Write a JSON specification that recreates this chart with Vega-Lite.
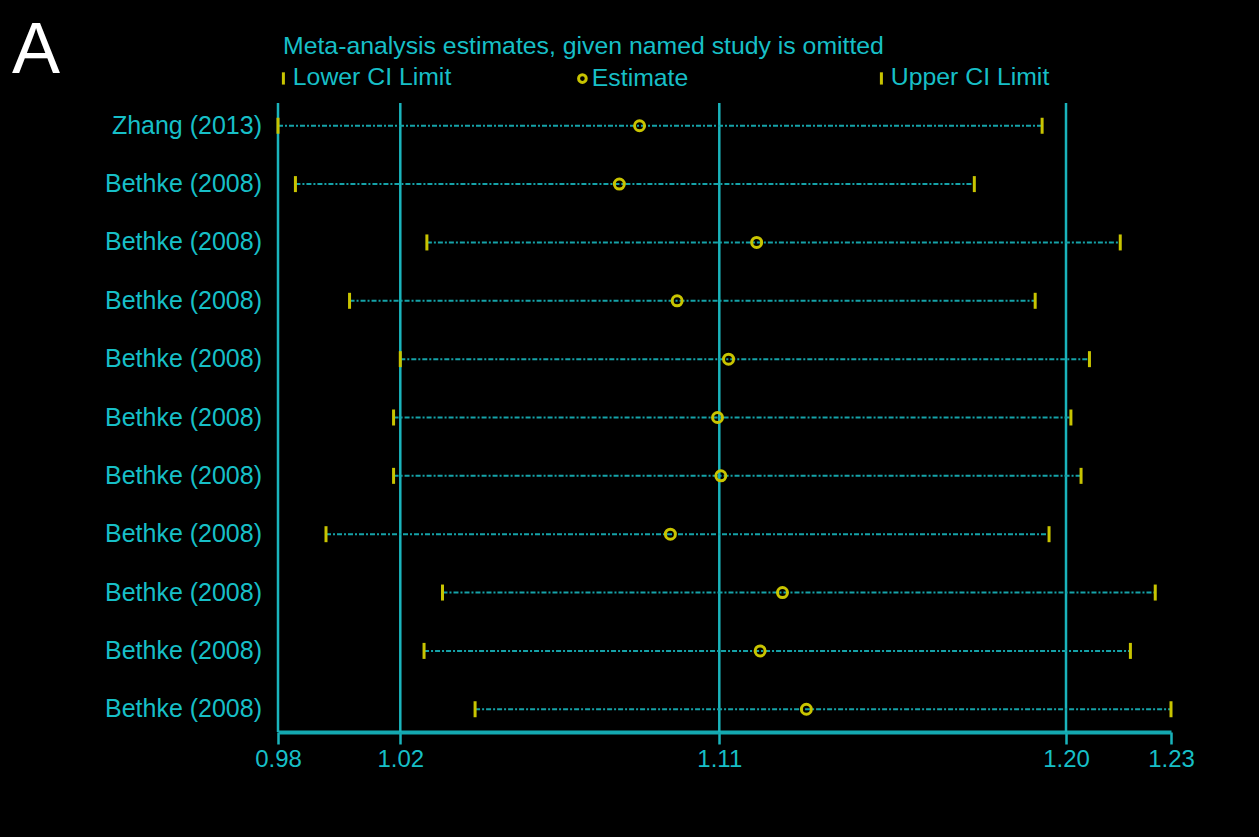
{
  "$schema": "https://vega.github.io/schema/vega-lite/v6.json",
  "width": 893,
  "height": 629,
  "autosize": {"type": "none"},
  "padding": {"left": 278, "top": 103, "right": 88, "bottom": 105},
  "background": "#000000",
  "datasets": {
    "studies": [
      {"row": 1, "study": "Zhang (2013)", "lower": 0.980, "estimate": 1.0875, "upper": 1.1938},
      {"row": 2, "study": "Bethke (2008)", "lower": 0.9857, "estimate": 1.0818, "upper": 1.1762},
      {"row": 3, "study": "Bethke (2008)", "lower": 1.0275, "estimate": 1.1197, "upper": 1.2155},
      {"row": 4, "study": "Bethke (2008)", "lower": 1.0034, "estimate": 1.0981, "upper": 1.1920},
      {"row": 5, "study": "Bethke (2008)", "lower": 1.0200, "estimate": 1.1124, "upper": 1.2067},
      {"row": 6, "study": "Bethke (2008)", "lower": 1.0178, "estimate": 1.1095, "upper": 1.2014},
      {"row": 7, "study": "Bethke (2008)", "lower": 1.0178, "estimate": 1.1104, "upper": 1.2043},
      {"row": 8, "study": "Bethke (2008)", "lower": 0.9957, "estimate": 1.0962, "upper": 1.1956},
      {"row": 9, "study": "Bethke (2008)", "lower": 1.0319, "estimate": 1.1264, "upper": 1.2255},
      {"row": 10, "study": "Bethke (2008)", "lower": 1.0267, "estimate": 1.1206, "upper": 1.2184},
      {"row": 11, "study": "Bethke (2008)", "lower": 1.0411, "estimate": 1.1326, "upper": 1.2300}
    ],
    "reference_lines": [
      {"value": 0.98},
      {"value": 1.02},
      {"value": 1.11},
      {"value": 1.20}
    ],
    "panel": [
      {"label": "A"}
    ]
  },
  "layer": [
    {
      "data": {"name": "reference_lines"},
      "mark": {"type": "rule", "color": "#1ab4bc", "strokeWidth": 2.5},
      "encoding": {
        "x": {
          "field": "value",
          "type": "quantitative",
          "scale": {
            "domain": [0.98, 1.02, 1.11, 1.20, 1.23],
            "range": [0, 122.3, 441.3, 788, 893],
            "nice": false,
            "zero": false
          },
          "axis": {
            "values": [0.98, 1.02, 1.11, 1.20, 1.23],
            "format": ".2f",
            "title": null,
            "grid": false,
            "domainColor": "#14a8b0",
            "domainWidth": 4,
            "tickColor": "#1ab4bc",
            "tickWidth": 2.5,
            "tickSize": 12,
            "labelColor": "#17bfc7",
            "labelFontSize": 24,
            "labelFont": "Liberation Sans",
            "labelPadding": 3,
            "labelDx": 4,
            "labelFlush": false
          }
        }
      }
    },
    {
      "data": {"name": "studies"},
      "mark": {"type": "rule", "color": "#15a2a8", "strokeWidth": 2, "strokeDash": [5, 2, 2, 2]},
      "encoding": {
        "x": {"field": "lower", "type": "quantitative"},
        "x2": {"field": "upper"},
        "y": {"field": "row", "type": "ordinal", "scale": {"type": "point", "padding": 0.39}, "axis": null}
      }
    },
    {
      "data": {"name": "studies"},
      "transform": [{"fold": ["lower", "estimate", "upper"], "as": ["kind", "value"]}],
      "mark": {"type": "point", "filled": false, "strokeWidth": 3, "opacity": 1, "size": 256},
      "encoding": {
        "x": {"field": "value", "type": "quantitative"},
        "y": {"field": "row", "type": "ordinal"},
        "shape": {
          "field": "kind",
          "type": "nominal",
          "scale": {
            "domain": ["lower", "estimate", "upper"],
            "range": [
              "M0,-1L0,1",
              "M0.625,0A0.625,0.625,0,1,1,-0.625,0A0.625,0.625,0,1,1,0.625,0Z",
              "M0,-1L0,1"
            ]
          },
          "legend": {
            "title": "Meta-analysis estimates, given named study is omitted",
            "labelExpr": "datum.label == 'lower' ? 'Lower CI Limit' : datum.label == 'upper' ? 'Upper CI Limit' : 'Estimate'"
          }
        },
        "color": {
          "field": "kind",
          "type": "nominal",
          "scale": {"domain": ["lower", "estimate", "upper"], "range": ["#c8c400", "#c8c400", "#c8c400"]},
          "legend": {
            "title": "Meta-analysis estimates, given named study is omitted",
            "labelExpr": "datum.label == 'lower' ? 'Lower CI Limit' : datum.label == 'upper' ? 'Upper CI Limit' : 'Estimate'"
          }
        }
      }
    },
    {
      "data": {"name": "studies"},
      "mark": {"type": "text", "align": "right", "baseline": "middle", "dx": -16, "fontSize": 25, "color": "#17bfc7", "font": "Liberation Sans"},
      "encoding": {
        "x": {"datum": 0.98, "type": "quantitative"},
        "y": {"field": "row", "type": "ordinal"},
        "text": {"field": "study", "type": "nominal"}
      }
    },
    {
      "data": {"name": "panel"},
      "mark": {"type": "text", "align": "left", "baseline": "alphabetic", "dx": -266, "dy": -53, "fontSize": 72, "color": "#ffffff", "font": "Liberation Sans"},
      "encoding": {
        "x": {"datum": 0.98, "type": "quantitative"},
        "y": {"datum": 1, "type": "ordinal"},
        "text": {"field": "label", "type": "nominal"}
      }
    }
  ],
  "config": {
    "view": {"stroke": null},
    "font": "Liberation Sans",
    "legend": {
      "orient": "none",
      "legendX": 5,
      "legendY": -69,
      "direction": "horizontal",
      "columns": 3,
      "gridAlign": "all",
      "columnPadding": 120,
      "padding": 0,
      "titleFontSize": 24.8,
      "titleFontWeight": "normal",
      "titleColor": "#17bfc7",
      "titleFont": "Liberation Sans",
      "titleLimit": 1000,
      "titlePadding": 7,
      "labelFontSize": 24.8,
      "labelColor": "#17bfc7",
      "labelFont": "Liberation Sans",
      "labelLimit": 1000,
      "labelOffset": -3,
      "symbolOffset": -12,
      "symbolStrokeWidth": 3,
      "symbolSize": 150
    }
  }
}
